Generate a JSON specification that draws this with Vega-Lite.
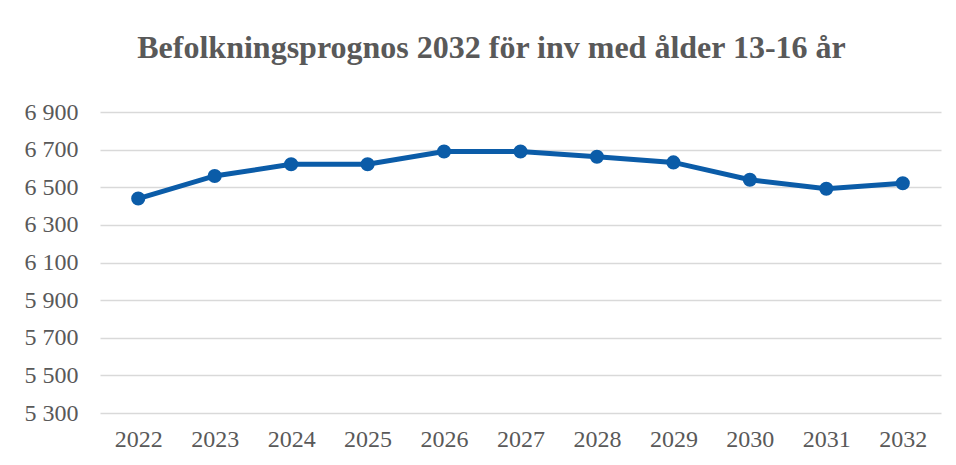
{
  "$schema": "https://vega.github.io/schema/vega-lite/v6.json",
  "autosize": "none",
  "width": 841,
  "height": 301,
  "padding": {"left": 100, "top": 112, "right": 15, "bottom": 52},
  "background": "white",
  "title": {
    "text": "Befolkningsprognos 2032 för inv med ålder 13-16 år",
    "font": "Liberation Serif",
    "fontSize": 32,
    "fontWeight": "bold",
    "color": "#595959",
    "anchor": "middle",
    "dx": -29,
    "offset": 10,
    "baseline": "alphabetic"
  },
  "data": {
    "values": [
      {"year": "2022", "value": 6440},
      {"year": "2023", "value": 6560},
      {"year": "2024", "value": 6622},
      {"year": "2025", "value": 6622},
      {"year": "2026", "value": 6690},
      {"year": "2027", "value": 6690},
      {"year": "2028", "value": 6662},
      {"year": "2029", "value": 6632},
      {"year": "2030", "value": 6540},
      {"year": "2031", "value": 6492},
      {"year": "2032", "value": 6521}
    ]
  },
  "config": {
    "view": {"stroke": null},
    "axis": {
      "labelFont": "Liberation Serif",
      "labelFontSize": 24,
      "labelColor": "#595959",
      "ticks": false,
      "domain": false,
      "title": null
    }
  },
  "encoding": {
    "x": {
      "field": "year",
      "type": "ordinal",
      "scale": {"type": "point", "padding": 0.5},
      "axis": {"labelAngle": 0, "labelPadding": 14, "grid": false}
    },
    "y": {
      "field": "value",
      "type": "quantitative",
      "scale": {"domain": [5300, 6900], "nice": false, "zero": false},
      "axis": {
        "values": [5300, 5500, 5700, 5900, 6100, 6300, 6500, 6700, 6900],
        "labelExpr": "replace(format(datum.value, ','), ',', ' ')",
        "labelPadding": 22,
        "grid": true,
        "gridColor": "#d9d9d9",
        "gridWidth": 1.5
      }
    }
  },
  "layer": [
    {"mark": {"type": "line", "color": "#0b5ca8", "strokeWidth": 5}},
    {"mark": {"type": "point", "filled": true, "color": "#0b5ca8", "size": 200, "opacity": 1}}
  ]
}
